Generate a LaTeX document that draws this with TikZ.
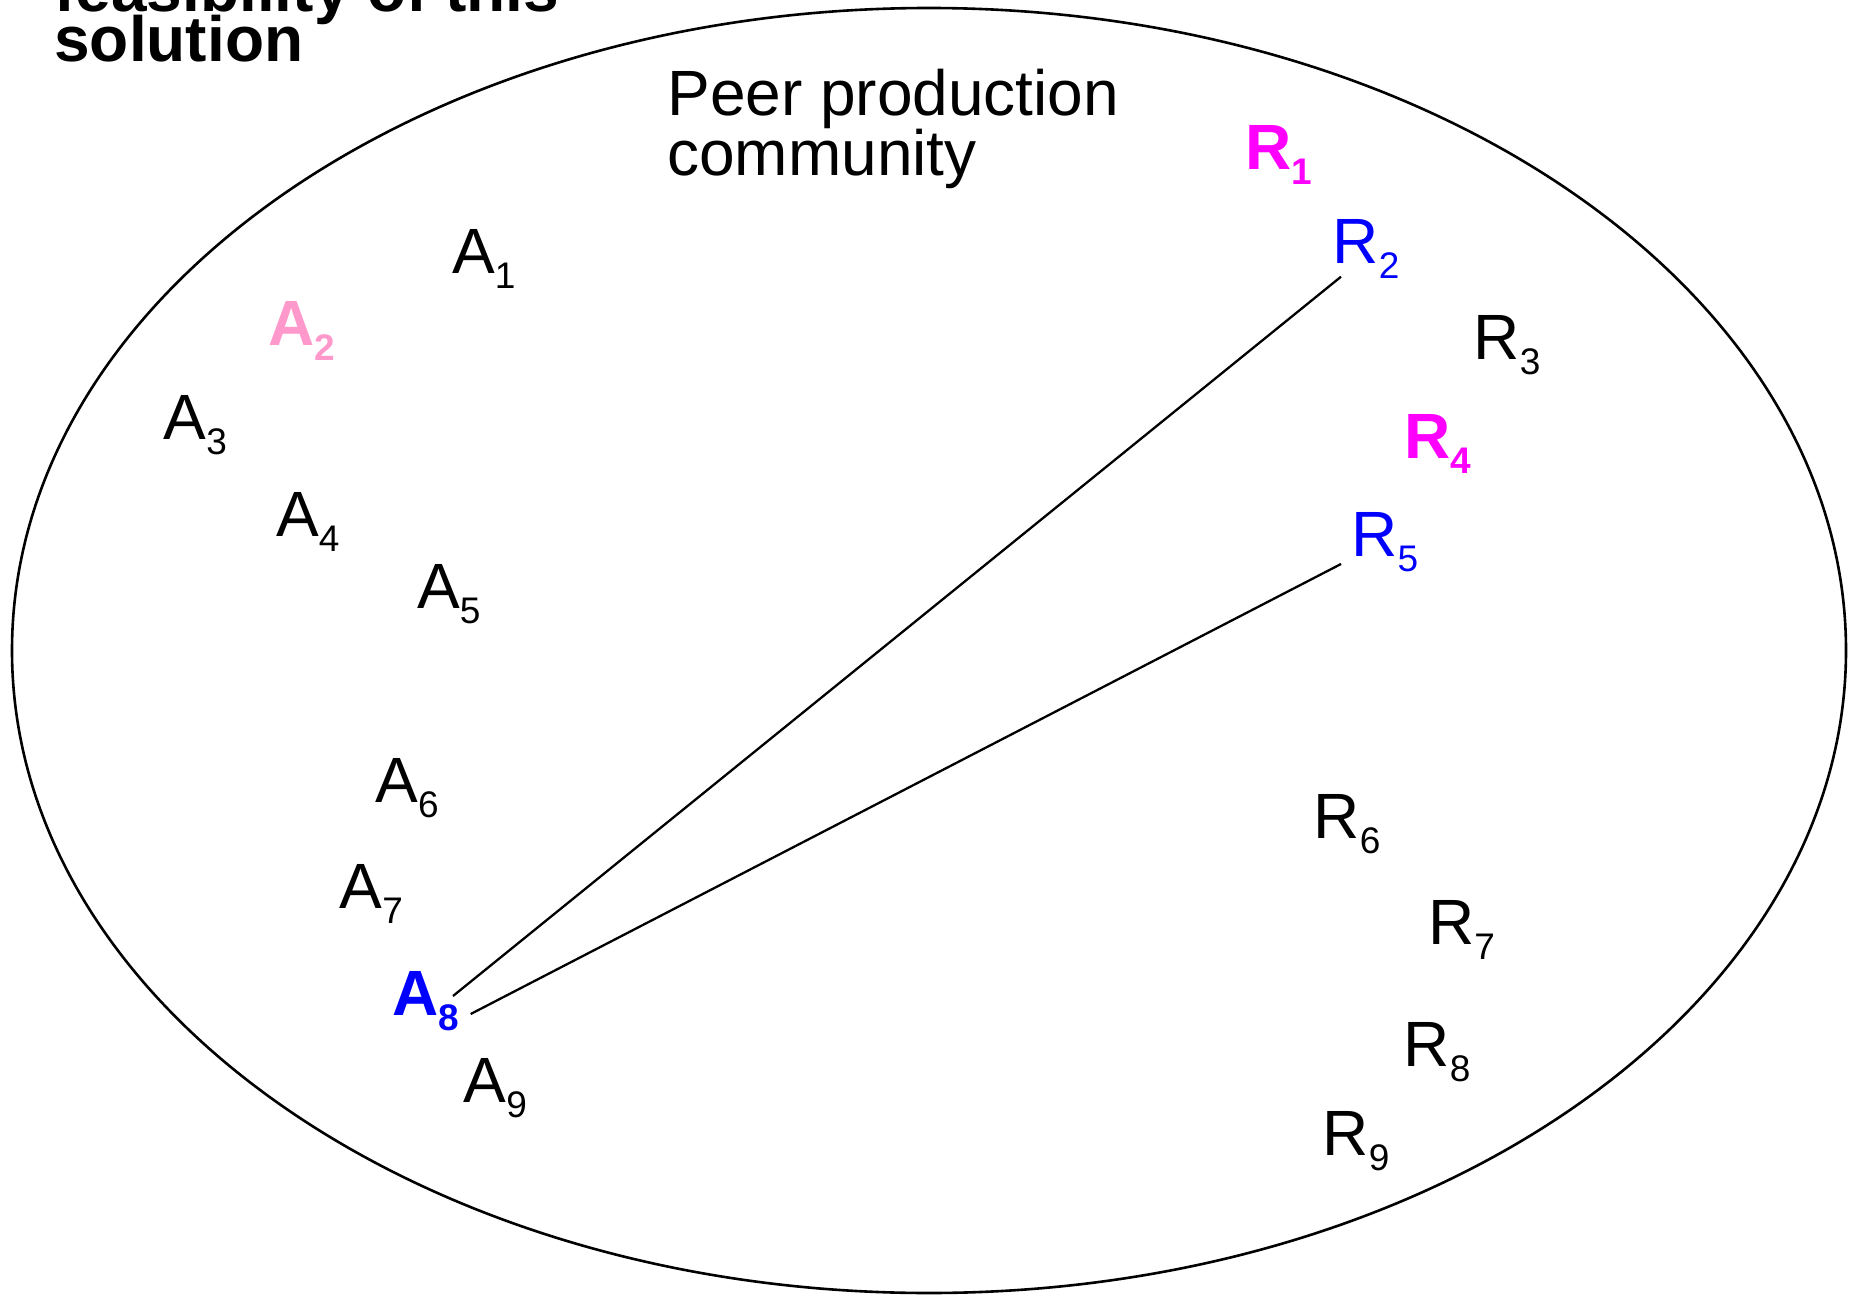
\documentclass[tikz,border=0pt]{standalone}
\usepackage{fontspec}
\setmainfont{Liberation Sans}
\usetikzlibrary{calc}
\definecolor{pinkA}{RGB}{255,153,204}
\definecolor{magR}{RGB}{255,0,255}
\definecolor{blueX}{RGB}{0,0,255}
\newcommand\lbl[2]{#1\raisebox{-7.5pt}{\fontsize{18.5}{18.5}\selectfont #2}}
\tikzset{
  lab/.style={inner sep=0pt, anchor=base west, font=\fontsize{32}{32}\selectfont},
  blab/.style={lab, font=\fontsize{32}{32}\selectfont\bfseries},
  conn/.style={line width=1.15pt},
  rim/.style={line width=1.3pt}
}
\lineskiplimit=-100pt
\begin{document}
\begin{tikzpicture}[x=0.5pt,y=-0.5pt]
\useasboundingbox (0,0) rectangle (1854,1295);
\draw[rim] (929,650.5) ellipse [x radius=458.5pt, y radius=321.25pt];
\node[inner sep=0pt, anchor=south west, align=left, font=\fontsize{32}{25}\selectfont\bfseries] (title) at (54,63) {feasibility of this\\solution};
\node[inner sep=0pt, anchor=south west, align=left, font=\fontsize{32}{30}\selectfont] (comm) at (667,189.5) {Peer production\\community};
\node[lab] (A1) at (451.7,273.3) {\lbl{A}{1}};
\node[blab, text=pinkA] (A2) at (268.3,345.7) {\lbl{A}{2}};
\node[lab] (A3) at (163.3,439.3) {\lbl{A}{3}};
\node[lab] (A4) at (275.7,536.7) {\lbl{A}{4}};
\node[lab] (A5) at (416.7,608.3) {\lbl{A}{5}};
\node[lab] (A6) at (375,802.7) {\lbl{A}{6}};
\node[lab] (A7) at (339.3,908.3) {\lbl{A}{7}};
\node[blab, text=blueX] (A8) at (391.7,1015.7) {\lbl{A}{8}};
\node[lab] (A9) at (463.3,1102.7) {\lbl{A}{9}};
\node[blab, text=magR] (R1) at (1244.6,169.3) {\lbl{R}{1}};
\node[lab, text=blueX] (R2) at (1332.3,263.3) {\lbl{R}{2}};
\node[lab] (R3) at (1473.3,359.3) {\lbl{R}{3}};
\node[blab, text=magR] (R4) at (1403.6,458.3) {\lbl{R}{4}};
\node[lab, text=blueX] (R5) at (1351,556) {\lbl{R}{5}};
\node[lab] (R6) at (1313.3,838.3) {\lbl{R}{6}};
\node[lab] (R7) at (1427.7,944) {\lbl{R}{7}};
\node[lab] (R8) at (1403.3,1066.7) {\lbl{R}{8}};
\node[lab] (R9) at (1322.3,1155) {\lbl{R}{9}};
\draw[conn] ($(A8.base west)+(61.3,-19.7)$) -- ($(R2.base west)+(8.7,13.4)$);
\draw[conn] ($(A8.base west)+(79,-1.7)$) -- ($(R5.base west)+(-10,8)$);
\end{tikzpicture}
\end{document}
